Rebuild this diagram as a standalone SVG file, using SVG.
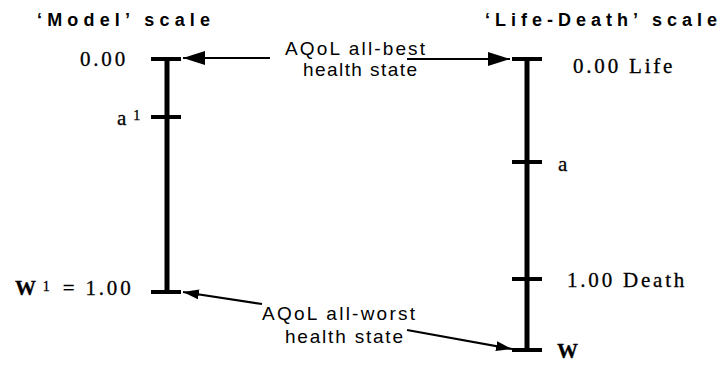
<svg xmlns="http://www.w3.org/2000/svg" width="720" height="365" viewBox="0 0 720 365">
  <defs>
    <marker id="bigHead" markerUnits="userSpaceOnUse" markerWidth="24" markerHeight="16" refX="22" refY="7" orient="auto">
      <path d="M0,0 L22,7 L0,14 z" fill="#000"/>
    </marker>
    <marker id="smallHead" markerUnits="userSpaceOnUse" markerWidth="18" markerHeight="12" refX="16" refY="5" orient="auto">
      <path d="M0,0 L16,5 L0,10 z" fill="#000"/>
    </marker>
  </defs>
  <style>
    .bg { fill: #fff; }
    .axis { stroke: #000; stroke-width: 5; fill: none; }
    .tick { stroke: #000; stroke-width: 4; fill: none; }
    .conn { stroke: #000; stroke-width: 2.2; fill: none; }
    .title { font-family: "Liberation Sans", Arial, sans-serif; font-weight: bold; font-size: 18px; fill: #000; }
    .note { font-family: "Liberation Sans", Arial, sans-serif; font-size: 19px; fill: #000; }
    .val { font-family: "Liberation Serif", "Times New Roman", serif; font-size: 21px; letter-spacing: 2.8px; fill: #000; stroke: #000; stroke-width: 0.3px; }
    .sup { font-size: 14px; letter-spacing: 0; }
  </style>
  <rect class="bg" x="0" y="0" width="720" height="365"/>

  <g id="model-scale">
    <text class="title" x="37" y="26" textLength="173" lengthAdjust="spacing">‘Model’ scale</text>
    <line class="axis" x1="167" y1="57" x2="167" y2="294"/>
    <line class="tick" x1="151" y1="59" x2="181" y2="59"/>
    <line class="tick" x1="151" y1="117" x2="181" y2="117"/>
    <line class="tick" x1="151" y1="292" x2="181" y2="292"/>
    <text class="val" x="80" y="66">0.00</text>
    <text class="val" x="117" y="125" letter-spacing="0">a<tspan class="sup" dx="4" dy="-5">1</tspan></text>
    <text class="val" x="15" y="295" letter-spacing="0"><tspan font-weight="bold">W</tspan><tspan class="sup" dx="4" dy="-4">1</tspan><tspan dx="13" dy="4" letter-spacing="2.8">= 1.00</tspan></text>
  </g>

  <g id="life-death-scale">
    <text class="title" x="485" y="26" textLength="232" lengthAdjust="spacing">‘Life-Death’ scale</text>
    <line class="axis" x1="527" y1="57" x2="527" y2="352"/>
    <line class="tick" x1="512" y1="59" x2="542" y2="59"/>
    <line class="tick" x1="512" y1="162" x2="542" y2="162"/>
    <line class="tick" x1="512" y1="279" x2="542" y2="279"/>
    <line class="tick" x1="512" y1="350" x2="542" y2="350"/>
    <text class="val" x="573" y="73">0.00 Life</text>
    <text class="val" x="558" y="171">a</text>
    <text class="val" x="567" y="287">1.00 Death</text>
    <text class="val" x="557" y="358" font-weight="bold">W</text>
  </g>

  <g id="best-label">
    <text class="note" x="285" y="55" textLength="140" lengthAdjust="spacing">AQoL all-best</text>
    <text class="note" x="303" y="76" textLength="114" lengthAdjust="spacing">health state</text>
  </g>

  <g id="worst-label">
    <text class="note" x="262" y="320" textLength="153" lengthAdjust="spacing">AQoL all-worst</text>
    <text class="note" x="285" y="343" textLength="118" lengthAdjust="spacing">health state</text>
  </g>

  <g id="connectors">
    <line class="conn" x1="270" y1="58" x2="183" y2="58" marker-end="url(#bigHead)"/>
    <line class="conn" x1="407" y1="59" x2="510" y2="59" marker-end="url(#bigHead)"/>
    <line class="conn" x1="262" y1="304" x2="183" y2="292" marker-end="url(#smallHead)"/>
    <line class="conn" x1="407" y1="330" x2="512" y2="349" marker-end="url(#smallHead)"/>
  </g>
</svg>
